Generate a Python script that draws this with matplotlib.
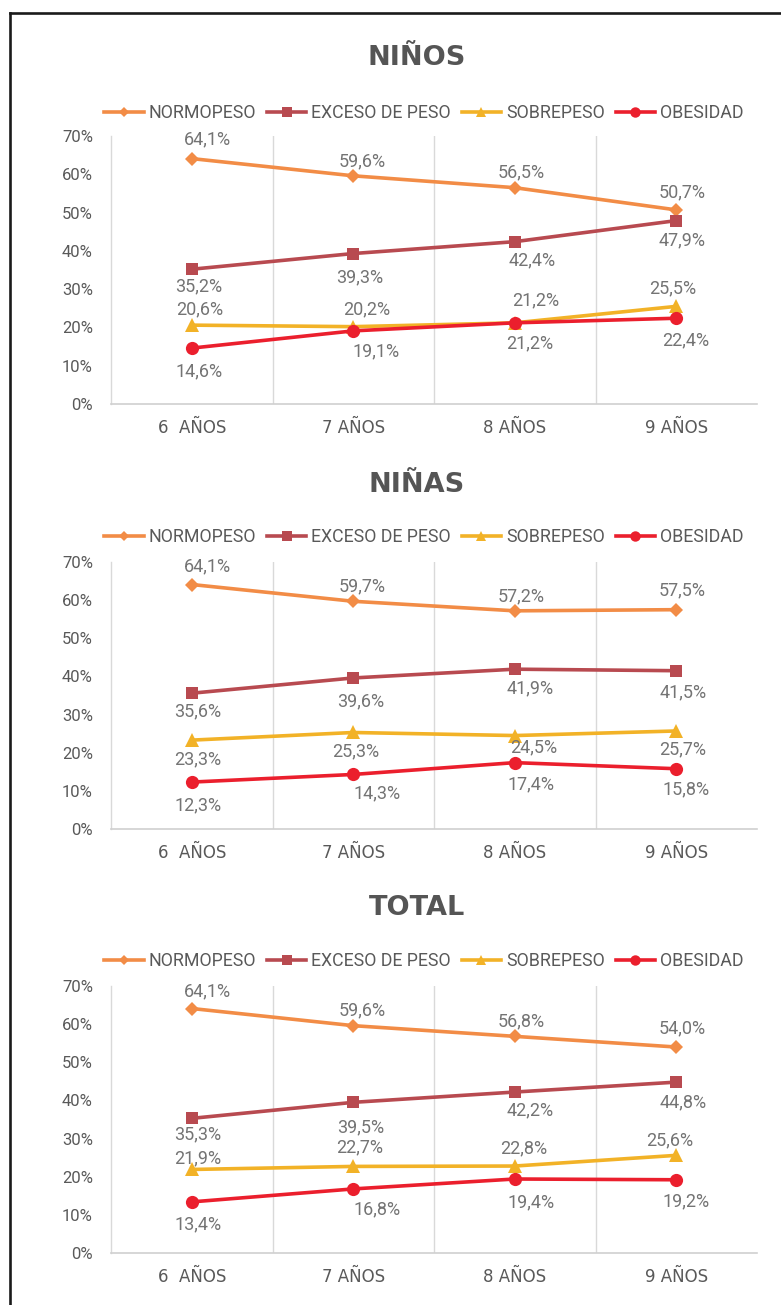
import matplotlib
matplotlib.use("Agg")
import matplotlib.pyplot as plt
from matplotlib.lines import Line2D

# ---------------- data ----------------
categories = ["6  AÑOS", "7 AÑOS", "8 AÑOS", "9 AÑOS"]
series_names = ["NORMOPESO", "EXCESO DE PESO", "SOBREPESO", "OBESIDAD"]
panel_titles = ["NIÑOS", "NIÑAS", "TOTAL"]
yticks = [0, 10, 20, 30, 40, 50, 60, 70]

ninos_normopeso = [64.1, 59.6, 56.5, 50.7]
ninos_exceso = [35.2, 39.3, 42.4, 47.9]
ninos_sobrepeso = [20.6, 20.2, 21.2, 25.5]
ninos_obesidad = [14.6, 19.1, 21.2, 22.4]

ninas_normopeso = [64.1, 59.7, 57.2, 57.5]
ninas_exceso = [35.6, 39.6, 41.9, 41.5]
ninas_sobrepeso = [23.3, 25.3, 24.5, 25.7]
ninas_obesidad = [12.3, 14.3, 17.4, 15.8]

total_normopeso = [64.1, 59.6, 56.8, 54.0]
total_exceso = [35.3, 39.5, 42.2, 44.8]
total_sobrepeso = [21.9, 22.7, 22.8, 25.6]
total_obesidad = [13.4, 16.8, 19.4, 19.2]

panels_data = [
    [ninos_normopeso, ninos_exceso, ninos_sobrepeso, ninos_obesidad],
    [ninas_normopeso, ninas_exceso, ninas_sobrepeso, ninas_obesidad],
    [total_normopeso, total_exceso, total_sobrepeso, total_obesidad],
]

# ---------------- styles ----------------
colors = ["#F28C46", "#B84A50", "#F2B227", "#EB1F2D"]
markers = ["D", "s", "^", "o"]
msizes = [7.5, 8.5, 9.5, 9.5]
leg_msizes = [5.5, 7, 7.5, 7.5]

# label offsets in pixels (dx, dy up), per panel / series / point
label_offsets = [
    [[(16, 19), (9, 14), (6, 15), (6, 18)],
     [(7, -17), (6, -24), (17, -19), (6, -20)],
     [(8, 16), (13, 17), (21, 22), (-4, 18)],
     [(7, -23), (23, -20), (15, -21), (9, -22)]],
    [[(16, 18), (9, 15), (6, 14), (6, 19)],
     [(6, -18), (7, -23), (15, -19), (7, -22)],
     [(6, -19), (2, -19), (19, -12), (6, -18)],
     [(6, -23), (24, -19), (16, -22), (10, -21)]],
    [[(16, 17), (9, 15), (6, 15), (6, 19)],
     [(6, -16), (7, -25), (15, -18), (7, -20)],
     [(6, 11), (6, 19), (9, 18), (-7, 15)],
     [(6, -22), (24, -20), (16, -23), (10, -22)]],
]

W, H = 781, 1305
fig = plt.figure(figsize=(W / 100, H / 100), dpi=100)

# axes pixel boxes: (left, top, right, bottom)
ax_boxes = [(111, 136, 757, 404), (111, 562, 757, 829), (111, 986, 757, 1253)]
title_y = [58, 485, 908]
legend_y = [113, 537, 961]

TXT = "#595959"
LBL = "#747474"

for p in range(3):
    l, t, r, b = ax_boxes[p]
    ax = fig.add_axes([l / W, 1 - b / H, (r - l) / W, (b - t) / H])
    x = list(range(len(categories)))
    for s in range(4):
        vals = panels_data[p][s]
        ax.plot(x, vals, color=colors[s], lw=2.6, marker=markers[s],
                markersize=msizes[s], markeredgewidth=0, zorder=3 + s * 0.1)
        for i, v in enumerate(vals):
            dx, dy = label_offsets[p][s][i]
            ax.annotate(f"{v:.1f}%".replace(".", ","), (i, v),
                        xytext=(dx, dy), textcoords="offset pixels",
                        ha="center", va="center", fontsize=13,
                        family="Roboto", color=LBL, zorder=6)
    ax.set_xlim(-0.5, 3.5)
    ax.set_ylim(0, 70)
    ax.set_yticks(yticks)
    ax.set_yticklabels([f"{v}%" for v in yticks], family="Roboto",
                       fontsize=12, color=TXT)
    ax.set_xticks(x)
    ax.set_xticklabels(categories, family="DejaVu Sans", fontsize=12,
                       color=TXT)
    ax.tick_params(axis="y", length=0, pad=13)
    ax.tick_params(axis="x", length=0, pad=11)
    ax.set_xticks([0.5, 1.5, 2.5], minor=True)
    ax.tick_params(which="minor", length=0)
    ax.grid(True, which="minor", axis="x", color="#d9d9d9", lw=1)
    ax.grid(False, which="major")
    for sp in ["top", "right"]:
        ax.spines[sp].set_visible(False)
    ax.spines["left"].set_color("#d9d9d9")
    ax.spines["bottom"].set_color("#d0d0d0")
    ax.spines["left"].set_linewidth(1)
    ax.spines["bottom"].set_linewidth(1.2)

    fig.text(417 / W, 1 - title_y[p] / H, panel_titles[p], ha="center",
             va="center", fontsize=19.5, fontweight="bold",
             family="DejaVu Sans", color="#555555")

    handles = [Line2D([], [], color=colors[s], lw=2.6, marker=markers[s],
                      markersize=leg_msizes[s], markeredgewidth=0)
               for s in range(4)]
    fig.legend(handles, series_names, loc="center",
               bbox_to_anchor=(424 / W, 1 - legend_y[p] / H), ncol=4,
               frameon=False, handlelength=2.2, handletextpad=0.3,
               columnspacing=0.6, borderpad=0, borderaxespad=0,
               prop={"family": "Roboto", "size": 12.8},
               labelcolor=TXT)

# black frame (left and top edges visible)
fig.add_artist(Line2D([10 / W, 10 / W], [0, 1 - 13 / H], color="#1a1a1a",
                      lw=1.9, transform=fig.transFigure))
fig.add_artist(Line2D([10 / W, 1], [1 - 13 / H, 1 - 13 / H], color="#1a1a1a",
                      lw=1.9, transform=fig.transFigure))

fig.savefig("out.png", dpi=100, facecolor="white")
